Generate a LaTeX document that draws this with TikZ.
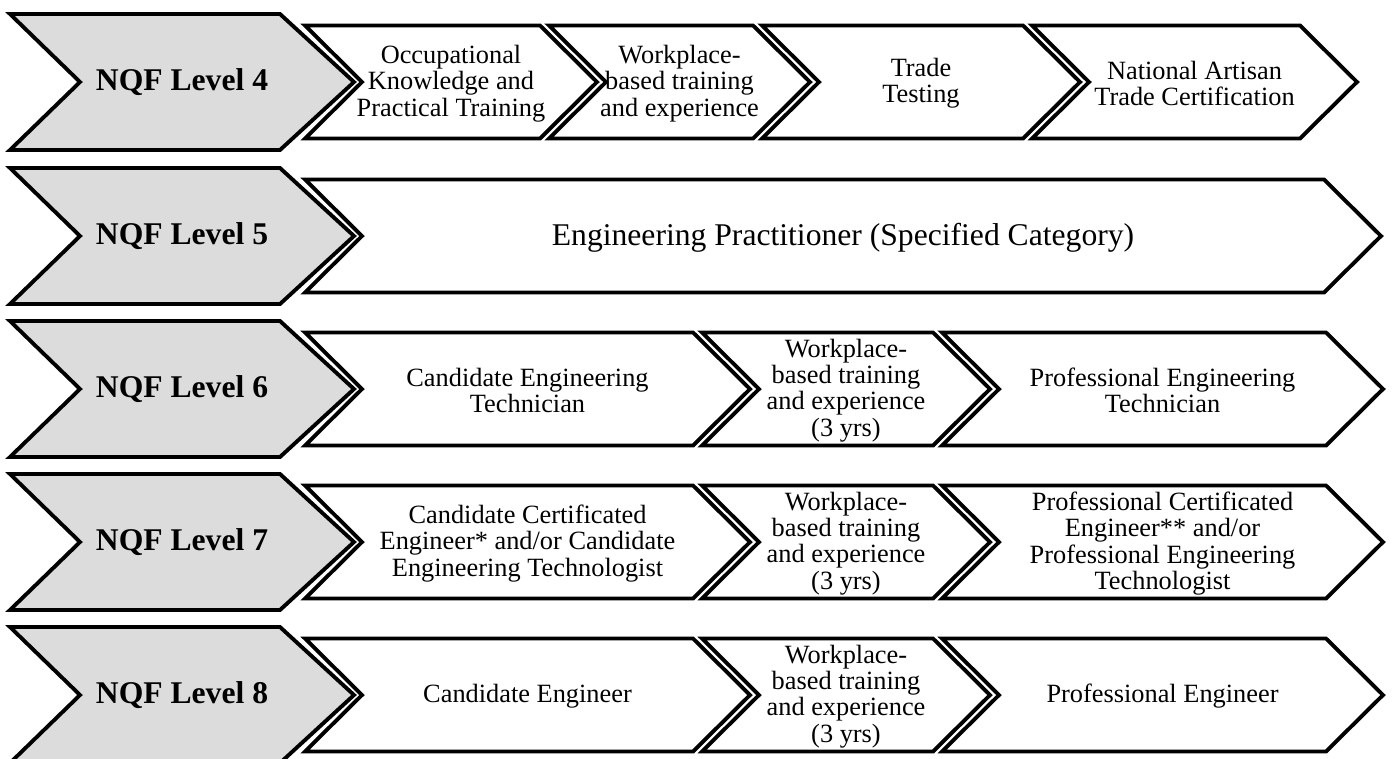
\documentclass[tikz,border=0pt]{standalone}
\usepackage{fontspec}
\setmainfont{Liberation Serif}
\usepackage{tikz}
\definecolor{levelgray}{RGB}{220,220,220}

% grey level chevron: name, centre y, text
\newcommand{\levelchevron}[3]{%
	\draw[levelbox] (10,#2-68) -- (280,#2-68) -- (354,#2) -- (280,#2+68) -- (10,#2+68) -- (80,#2) -- cycle;
	\node[leveltext] (#1) at (182,#2) {#3};}

% white stage chevron: name, left x, corner x, centre y, text
\newcommand{\stagechevron}[5]{%
	\draw[stagebox] (#2,#4-56.5) -- (#3,#4-56.5) -- (#3+57,#4) -- (#3,#4+56.5) -- (#2,#4+56.5) -- (#2+57,#4) -- cycle;
	\node[stagetext] (#1) at ({(#2+#3+57)/2},#4+1.5) {#5};}

\begin{document}
\begin{tikzpicture}[x=0.02cm, y=-0.02cm,
	levelbox/.style={draw=black, line width=2.2pt, line join=miter, fill=levelgray},
	stagebox/.style={draw=black, line width=2.2pt, line join=miter, fill=white},
	leveltext/.style={font=\bfseries\fontsize{18}{18}\selectfont},
	stagetext/.style={align=center, inner sep=0pt, font=\fontsize{15}{15}\selectfont}]

			\useasboundingbox (0,0) rectangle (1395,758);

			% left column of levels
			\levelchevron{L4}{82}{NQF Level 4}
			\levelchevron{L5}{236}{NQF Level 5}
			\levelchevron{L6}{389}{NQF Level 6}
			\levelchevron{L7}{542}{NQF Level 7}
			\levelchevron{L8}{695}{NQF Level 8}

			% level 4: artisan route
			\stagechevron{okpt}{305}{540}{82}{Occupational\\Knowledge and\\Practical Training}
			\stagechevron{wbt4}{549}{753}{82}{Workplace-\\based training\\and experience}
			\stagechevron{trade}{762}{1023}{82}{Trade\\Testing}
			\stagechevron{natc}{1032}{1300}{82}{National Artisan\\Trade Certification}

			% level 5
			\stagechevron{epsc}{305}{1324}{236}{\fontsize{18}{18}\selectfont Engineering Practitioner (Specified Category)}

			% level 6
			\stagechevron{cet}{305}{693}{389}{Candidate Engineering\\Technician}
			\stagechevron{wbt6}{702}{933}{389}{Workplace-\\based training\\and experience\\(3 yrs)}
			\stagechevron{pet}{942}{1326}{389}{Professional Engineering\\Technician}

			% level 7
			\stagechevron{cce}{305}{693}{542}{Candidate Certificated\\Engineer* and/or Candidate\\Engineering Technologist}
			\stagechevron{wbt7}{702}{933}{542}{Workplace-\\based training\\and experience\\(3 yrs)}
			\stagechevron{pce}{942}{1326}{542}{Professional Certificated\\Engineer** and/or\\Professional Engineering\\Technologist}

			% level 8
			\stagechevron{ce}{305}{693}{695}{Candidate Engineer}
			\stagechevron{wbt8}{702}{933}{695}{Workplace-\\based training\\and experience\\(3 yrs)}
			\stagechevron{pe}{942}{1326}{695}{Professional Engineer}

		\end{tikzpicture}
\end{document}
